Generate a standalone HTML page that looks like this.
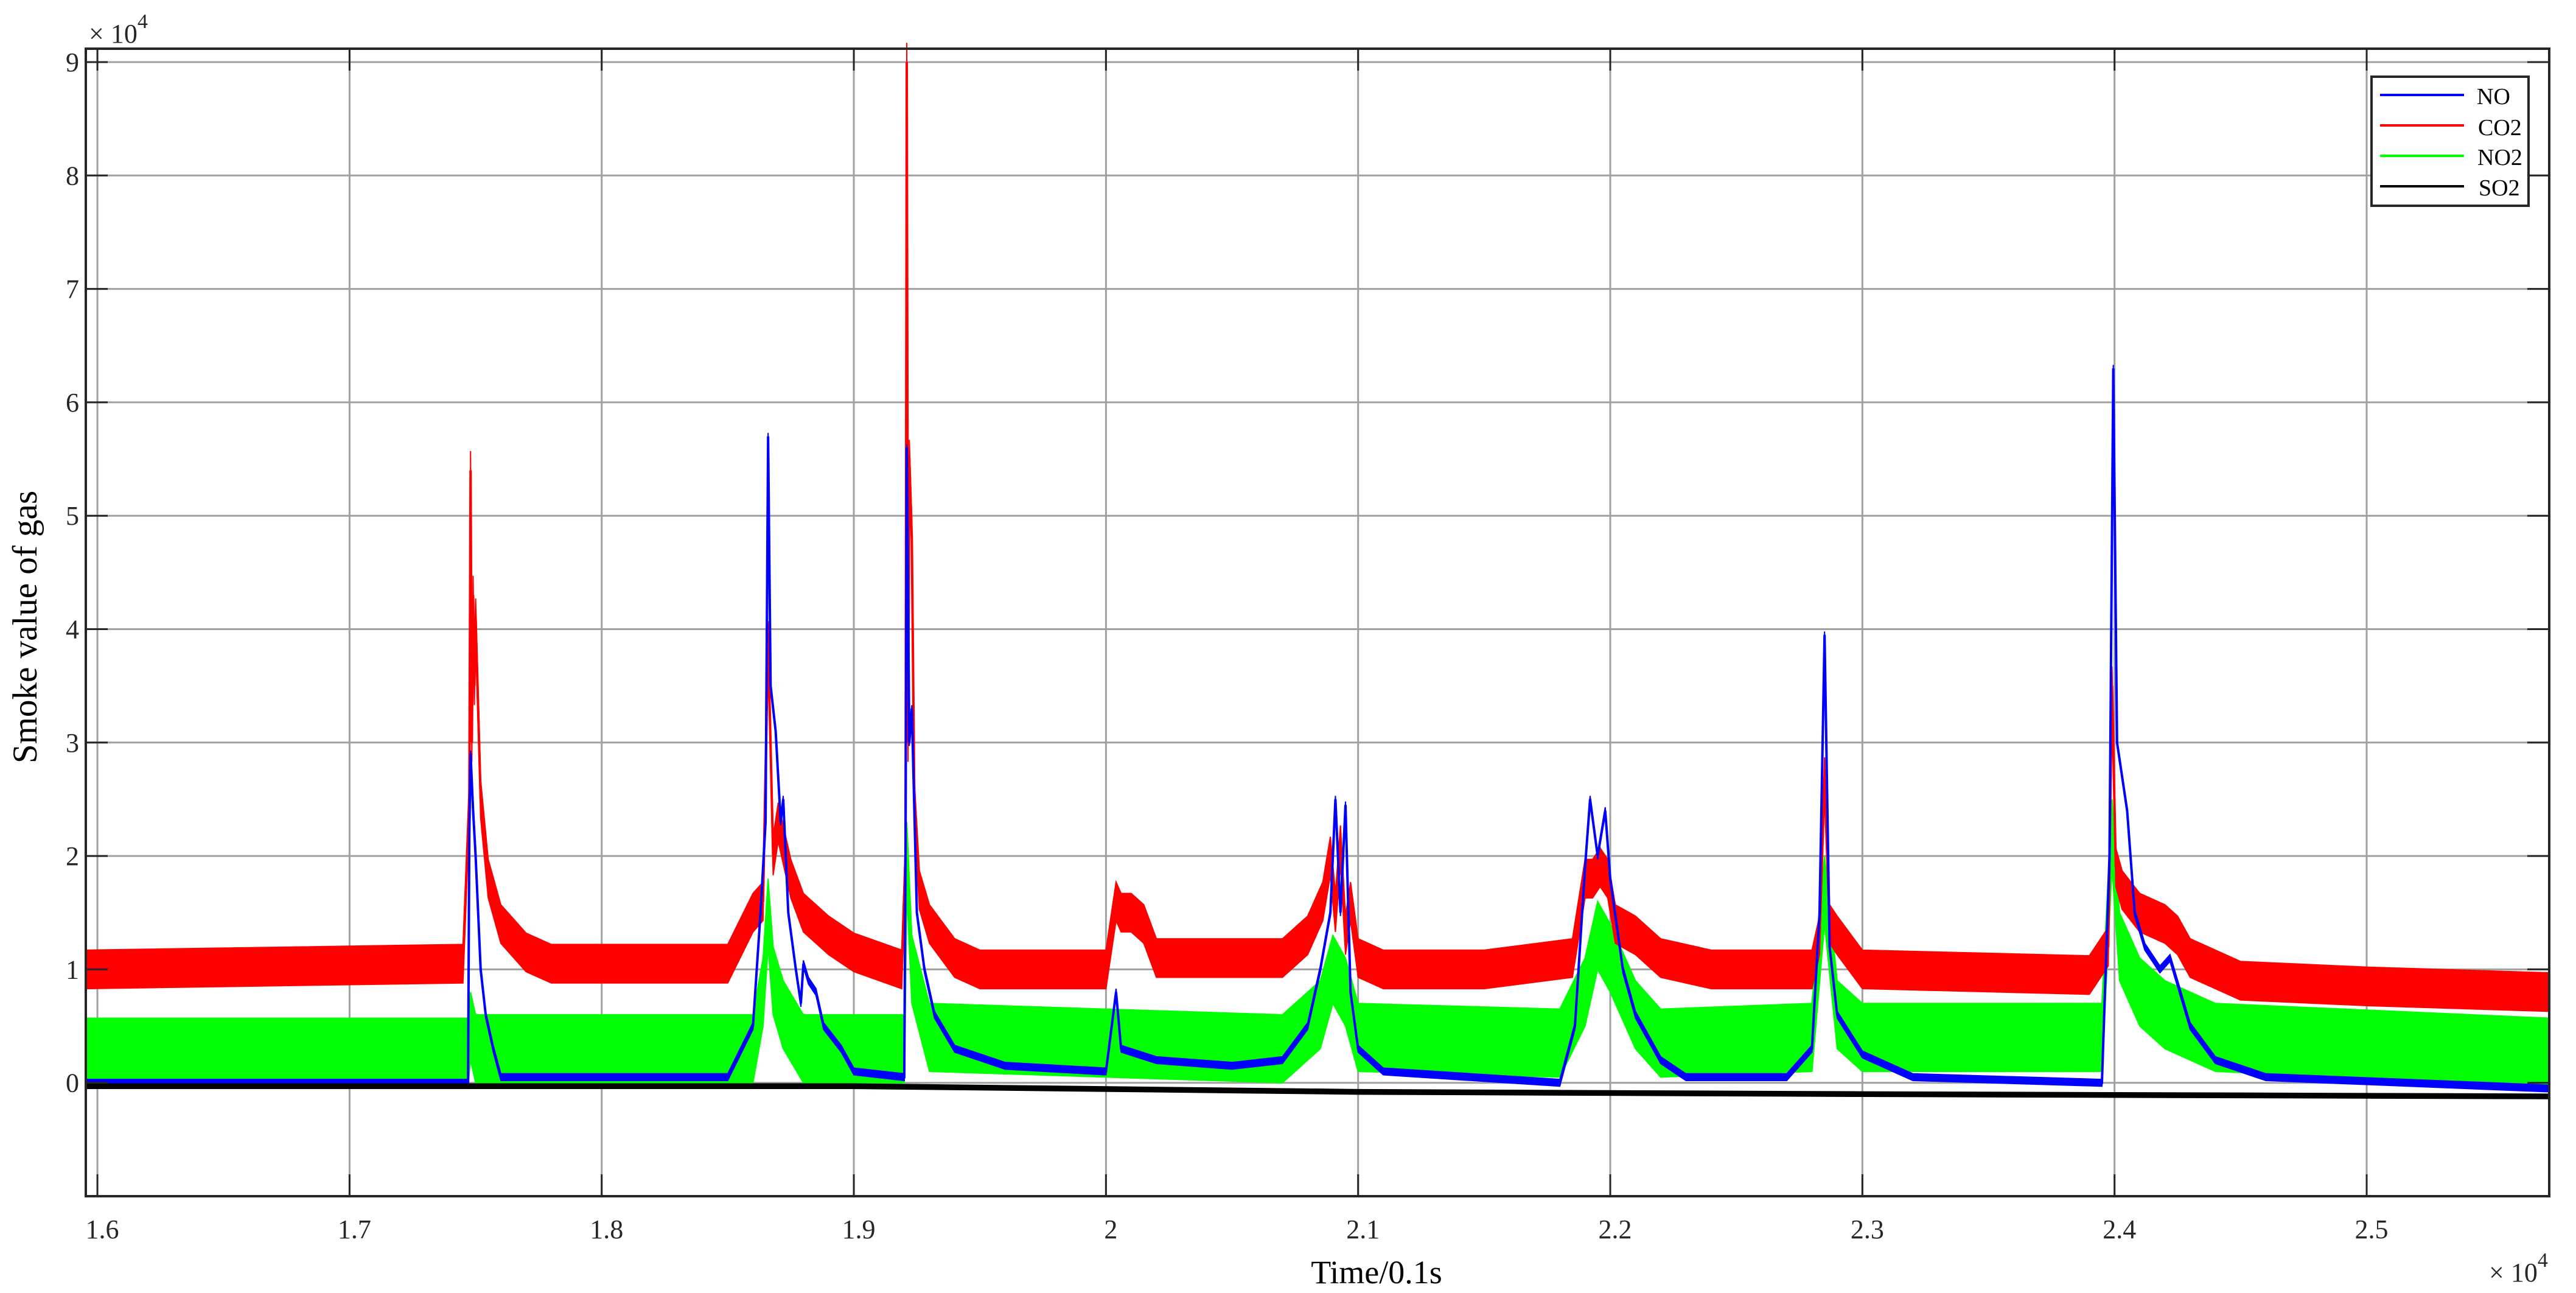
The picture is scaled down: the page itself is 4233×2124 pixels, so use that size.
<!DOCTYPE html>
<html><head><meta charset="utf-8"><style>
html,body{margin:0;padding:0;background:#fff;}
svg{display:block;font-family:"Liberation Serif",serif;}
</style></head><body>
<svg id="chart" width="4233" height="2124" viewBox="0 0 4233 2124" xmlns="http://www.w3.org/2000/svg">
<g id="grid"></g>
<g id="series"></g>
<g id="axes"></g>
<text x="0" y="0" transform="translate(60,1030) rotate(-90)" text-anchor="middle" font-size="57" fill="#000">Smoke value of gas</text>
<text x="2262" y="2108" text-anchor="middle" font-size="54" fill="#000">Time/0.1s</text>
<text x="146" y="70" font-size="44" fill="#262626">× 10<tspan dy="-24" font-size="34">4</tspan></text>
<text x="4090" y="2105" font-size="44" fill="#262626">× 10<tspan dy="-24" font-size="34">4</tspan></text>
<g>
<rect x="3897" y="126" width="258" height="212" fill="#fff" stroke="#262626" stroke-width="4"/>
<line x1="3911" y1="156" x2="4049" y2="156" stroke="#0000ff" stroke-width="4"/>
<text x="4070" y="171" font-size="38">NO</text>
<line x1="3911" y1="206" x2="4049" y2="206" stroke="#ff0000" stroke-width="4"/>
<text x="4072" y="222" font-size="38">CO2</text>
<line x1="3911" y1="256" x2="4049" y2="256" stroke="#00ff00" stroke-width="4"/>
<text x="4071" y="271" font-size="38">NO2</text>
<line x1="3911" y1="306" x2="4049" y2="306" stroke="#000" stroke-width="4"/>
<text x="4073" y="321" font-size="38">SO2</text>
</g>
</svg>
<script>
const xTicks = [1.6,1.7,1.8,1.9,2.0,2.1,2.2,2.3,2.4,2.5];
const xTickLabels = ["1.6","1.7","1.8","1.9","2","2.1","2.2","2.3","2.4","2.5"];
const yTicks = [0,1,2,3,4,5,6,7,8,9];
const yTickLabels = ["0","1","2","3","4","5","6","7","8","9"];
const xDomain = [1.5954, 2.5724];
const yDomain = [-1, 9.118];
const co2Points = [[1.5954,1.0],[1.745,1.05],[1.7475,2.5],[1.748,5.4],[1.7485,3.0],[1.749,4.3],[1.7495,3.5],[1.75,4.1],[1.752,2.5],[1.755,1.8],[1.76,1.4],[1.77,1.15],[1.78,1.05],[1.85,1.05],[1.86,1.5],[1.864,1.6],[1.866,3.9],[1.868,2.0],[1.87,2.3],[1.875,1.8],[1.88,1.5],[1.89,1.3],[1.9,1.15],[1.919,1.0],[1.9205,2.0],[1.921,9.0],[1.9215,3.0],[1.922,5.5],[1.923,4.8],[1.924,2.5],[1.926,1.7],[1.93,1.4],[1.94,1.1],[1.95,1.0],[2.0,1.0],[2.004,1.6],[2.006,1.5],[2.01,1.5],[2.015,1.4],[2.02,1.1],[2.07,1.1],[2.08,1.3],[2.086,1.6],[2.089,2.0],[2.091,1.5],[2.093,2.1],[2.095,1.3],[2.097,1.6],[2.1,1.1],[2.11,1.0],[2.15,1.0],[2.185,1.1],[2.19,1.8],[2.193,1.8],[2.196,1.9],[2.199,1.8],[2.202,1.4],[2.21,1.3],[2.22,1.1],[2.24,1.0],[2.28,1.0],[2.283,1.3],[2.285,2.7],[2.287,1.4],[2.29,1.3],[2.3,1.0],[2.39,0.95],[2.3975,1.2],[2.399,3.5],[2.4005,1.9],[2.403,1.7],[2.41,1.5],[2.42,1.4],[2.425,1.3],[2.43,1.1],[2.45,0.9],[2.5,0.85],[2.5724,0.8]];
const noPoints = [[1.5954,0],[1.747,0],[1.7475,2.2],[1.748,2.9],[1.749,2.4],[1.75,2.0],[1.752,1.0],[1.754,0.6],[1.757,0.3],[1.76,0.05],[1.85,0.05],[1.86,0.5],[1.863,1.5],[1.865,2.3],[1.866,5.7],[1.867,3.5],[1.869,3.1],[1.871,2.3],[1.872,2.5],[1.874,1.5],[1.877,1.0],[1.879,0.7],[1.88,1.05],[1.882,0.9],[1.885,0.8],[1.888,0.5],[1.895,0.3],[1.9,0.1],[1.92,0.05],[1.9205,2.0],[1.921,5.6],[1.922,3.0],[1.923,3.3],[1.925,1.5],[1.928,1.0],[1.932,0.6],[1.94,0.3],[1.96,0.15],[2.0,0.1],[2.004,0.8],[2.006,0.3],[2.02,0.2],[2.05,0.15],[2.07,0.2],[2.08,0.5],[2.085,1.0],[2.089,1.5],[2.091,2.5],[2.093,1.5],[2.095,2.45],[2.097,0.8],[2.1,0.3],[2.11,0.1],[2.18,0.0],[2.186,0.5],[2.19,1.9],[2.192,2.5],[2.195,2.0],[2.198,2.4],[2.2,1.8],[2.205,1.0],[2.21,0.6],[2.22,0.2],[2.23,0.05],[2.27,0.05],[2.28,0.3],[2.283,1.5],[2.285,3.95],[2.287,1.2],[2.29,0.6],[2.3,0.25],[2.32,0.05],[2.395,0.0],[2.398,2.0],[2.3995,6.3],[2.401,3.0],[2.403,2.7],[2.405,2.4],[2.408,1.5],[2.412,1.2],[2.418,1.0],[2.422,1.1],[2.426,0.8],[2.43,0.5],[2.44,0.2],[2.46,0.05],[2.5724,-0.05]];
const no2Points = [[1.5954,0.27],[1.747,0.27],[1.748,0.5],[1.75,0.3],[1.86,0.3],[1.864,0.8],[1.866,1.5],[1.868,0.9],[1.872,0.6],[1.88,0.3],[1.92,0.3],[1.921,2.0],[1.923,1.0],[1.93,0.4],[2.07,0.3],[2.085,0.6],[2.09,1.0],[2.095,0.8],[2.1,0.4],[2.18,0.35],[2.19,0.8],[2.195,1.3],[2.2,1.1],[2.21,0.6],[2.22,0.35],[2.28,0.4],[2.285,1.7],[2.29,0.6],[2.3,0.4],[2.395,0.4],[2.399,2.2],[2.402,1.2],[2.41,0.8],[2.42,0.6],[2.44,0.4],[2.5724,0.27]];
const so2Points = [[1.5954,-0.03],[1.9,-0.03],[2.1,-0.08],[2.3,-0.1],[2.5724,-0.12]];
const noiseAmp = {no:0.03, co2:0.17, no2:0.3, so2:0.02};

const L=141,R=4189,T=80,B=1965;
const sx=v=>L+(v-xDomain[0])/(xDomain[1]-xDomain[0])*(R-L);
const sy=v=>B-(v-yDomain[0])/(yDomain[1]-yDomain[0])*(B-T);
const NS="http://www.w3.org/2000/svg";
function mk(tag,parent,attrs){const e=document.createElementNS(NS,tag);for(const k in attrs)e.setAttribute(k,attrs[k]);parent.appendChild(e);return e;}
const grid=document.getElementById('grid'),axes=document.getElementById('axes'),ser=document.getElementById('series');
xTicks.forEach((t,i)=>{
  const x=sx(t);
  const g=mk('line',grid,{x1:x,y1:T,x2:x,y2:B,stroke:'#a0a0a0','stroke-width':3});
  
  
  [[B,B-36],[T,T+36]].forEach(p=>{const tk=mk('line',axes,{x1:x,y1:p[0],x2:x,y2:p[1],stroke:'#262626','stroke-width':3});
  
  });
  const lb=mk('text',axes,{x:x+8,y:2034,'text-anchor':'middle','font-size':44,fill:'#262626'});
  lb.textContent=xTickLabels[i];
  
  
});
yTicks.forEach((t,i)=>{
  const y=sy(t);
  const g=mk('line',grid,{x1:L,y1:y,x2:R,y2:y,stroke:'#a0a0a0','stroke-width':3});
  
  
  [[L,L+36],[R,R-36]].forEach(p=>{const tk=mk('line',axes,{x1:p[0],y1:y,x2:p[1],y2:y,stroke:'#262626','stroke-width':3});
  
  });
  const lb=mk('text',axes,{x:130,y:y+15,'text-anchor':'end','font-size':44,fill:'#262626'});
  lb.textContent=yTickLabels[i];
  
  
});
const frame=mk('rect',axes,{x:L,y:T,width:R-L,height:B-T,fill:'none',stroke:'#262626','stroke-width':4});



function drawSeries(pts,amp,color,name){
  const top=pts.map(p=>sx(p[0])+','+sy(p[1]+amp)).join(' ');
  const bot=pts.slice().reverse().map(p=>sx(p[0])+','+sy(p[1]-amp)).join(' ');
  const band=mk('polygon',ser,{points:top+' '+bot,fill:color,stroke:color,'stroke-width':2});
  
  
  const line=mk('polyline',ser,{points:pts.map(p=>sx(p[0])+','+sy(p[1])).join(' '),fill:'none',stroke:color,'stroke-width':4,'stroke-linejoin':'miter'});
  
  
}
drawSeries(no2Points,noiseAmp.no2,'#00ff00','no2');
drawSeries(co2Points,noiseAmp.co2,'#ff0000','co2');
drawSeries(noPoints,noiseAmp.no,'#0000ff','no');
drawSeries(so2Points,noiseAmp.so2,'#000000','so2');
</script>
</body></html>
